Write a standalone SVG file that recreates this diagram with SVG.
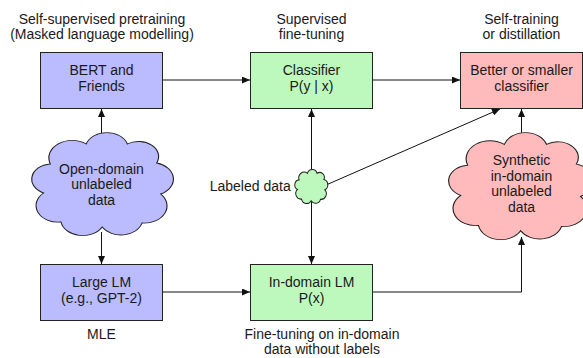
<svg xmlns="http://www.w3.org/2000/svg" width="583" height="358" viewBox="0 0 583 358">
<style>
text{font-family:"Liberation Sans",Arial,Helvetica,sans-serif;font-size:14px;fill:#1a1a1a;text-anchor:middle}
.box{stroke:#222;stroke-width:1}
.blue{fill:#bbbbff}.green{fill:#bdf9bd}.pink{fill:#ffbbbb}
.cloud{stroke:#222;stroke-width:1}
.conn{fill:none;stroke:#111;stroke-width:1}
</style>
<defs>
<marker id="ah" markerUnits="userSpaceOnUse" markerWidth="9" markerHeight="7" refX="8" refY="3.5" orient="auto"><path d="M0,0 L8,3.5 L0,7 z" fill="#111"/></marker>
<path id="cloudShape" d="M10,30 A17.5,17.5 0 0 1 37,10 A16.25,16.25 0 0 1 68,10 A15.1,15.1 0 0 1 90,29 A16.5,16.5 0 0 1 93,60 A17.2,17.2 0 0 1 79,89 A16.5,16.5 0 0 1 49,93 A16.7,16.7 0 0 1 18,88 A16.6,16.6 0 0 1 5,59 A15.2,15.2 0 0 1 10,30 Z"/>
</defs>
<g id="connectors">
<path class="conn" d="M163,80 H250" marker-end="url(#ah)"/>
<path class="conn" d="M373,80 H460" marker-end="url(#ah)"/>
<path class="conn" d="M101.5,136 V109" marker-end="url(#ah)"/>
<path class="conn" d="M101.5,232 V264" marker-end="url(#ah)"/>
<path class="conn" d="M163,292 H250" marker-end="url(#ah)"/>
<path class="conn" d="M373,292 H521.5 V237" marker-end="url(#ah)"/>
<path class="conn" d="M521.5,136 V109" marker-end="url(#ah)"/>
<path class="conn" d="M311.5,171 V109" marker-end="url(#ah)"/>
<path class="conn" d="M311.5,202 V264" marker-end="url(#ah)"/>
<path class="conn" d="M326,185 L500,109" marker-end="url(#ah)"/>
</g>
<g id="heading-pretraining"><text x="102" y="23.5">Self-supervised pretraining</text><text x="102" y="39">(Masked language modelling)</text></g>
<g id="heading-finetuning"><text x="311.5" y="23.5">Supervised</text><text x="311.5" y="39">fine-tuning</text></g>
<g id="heading-selftraining"><text x="521.5" y="23.5">Self-training</text><text x="521.5" y="39">or distillation</text></g>
<g id="bert"><rect class="box blue" x="40.5" y="52.5" width="122" height="56"/><text x="101.5" y="75">BERT and</text><text x="101.5" y="91">Friends</text></g>
<g id="classifier"><rect class="box green" x="250.5" y="52.5" width="122" height="56"/><text x="311.5" y="75">Classifier</text><text x="311.5" y="91">P(y | x)</text></g>
<g id="better"><rect class="box pink" x="460.5" y="52.5" width="122" height="56"/><text x="521.5" y="75">Better or smaller</text><text x="521.5" y="91">classifier</text></g>
<g id="open-domain"><use href="#cloudShape" class="cloud blue" transform="translate(37,134) scale(1.33,1.0)" style="stroke-width:0.85"/><text x="101.5" y="173.5">Open-domain</text><text x="101.5" y="189">unlabeled</text><text x="101.5" y="204.5">data</text></g>
<g id="labeled-data"><use href="#cloudShape" class="cloud green" transform="translate(296,170) scale(0.31,0.33)" style="stroke-width:3.2"/><text x="290.7" y="191" style="text-anchor:end">Labeled data</text></g>
<g id="synthetic"><use href="#cloudShape" class="cloud pink" transform="translate(454,134) scale(1.36,1.04)" style="stroke-width:0.85"/><text x="521.5" y="165">Synthetic</text><text x="521.5" y="180.5">in-domain</text><text x="521.5" y="196">unlabeled</text><text x="521.5" y="211.5">data</text></g>
<g id="large-lm"><rect class="box blue" x="40.5" y="264.5" width="122" height="56"/><text x="101.5" y="287">Large LM</text><text x="101.5" y="303">(e.g., GPT-2)</text><text x="101.5" y="339">MLE</text></g>
<g id="indomain-lm"><rect class="box green" x="250.5" y="264.5" width="122" height="56"/><text x="311.5" y="287">In-domain LM</text><text x="311.5" y="303">P(x)</text><text x="322" y="339">Fine-tuning on in-domain</text><text x="322" y="354">data without labels</text></g>
</svg>
